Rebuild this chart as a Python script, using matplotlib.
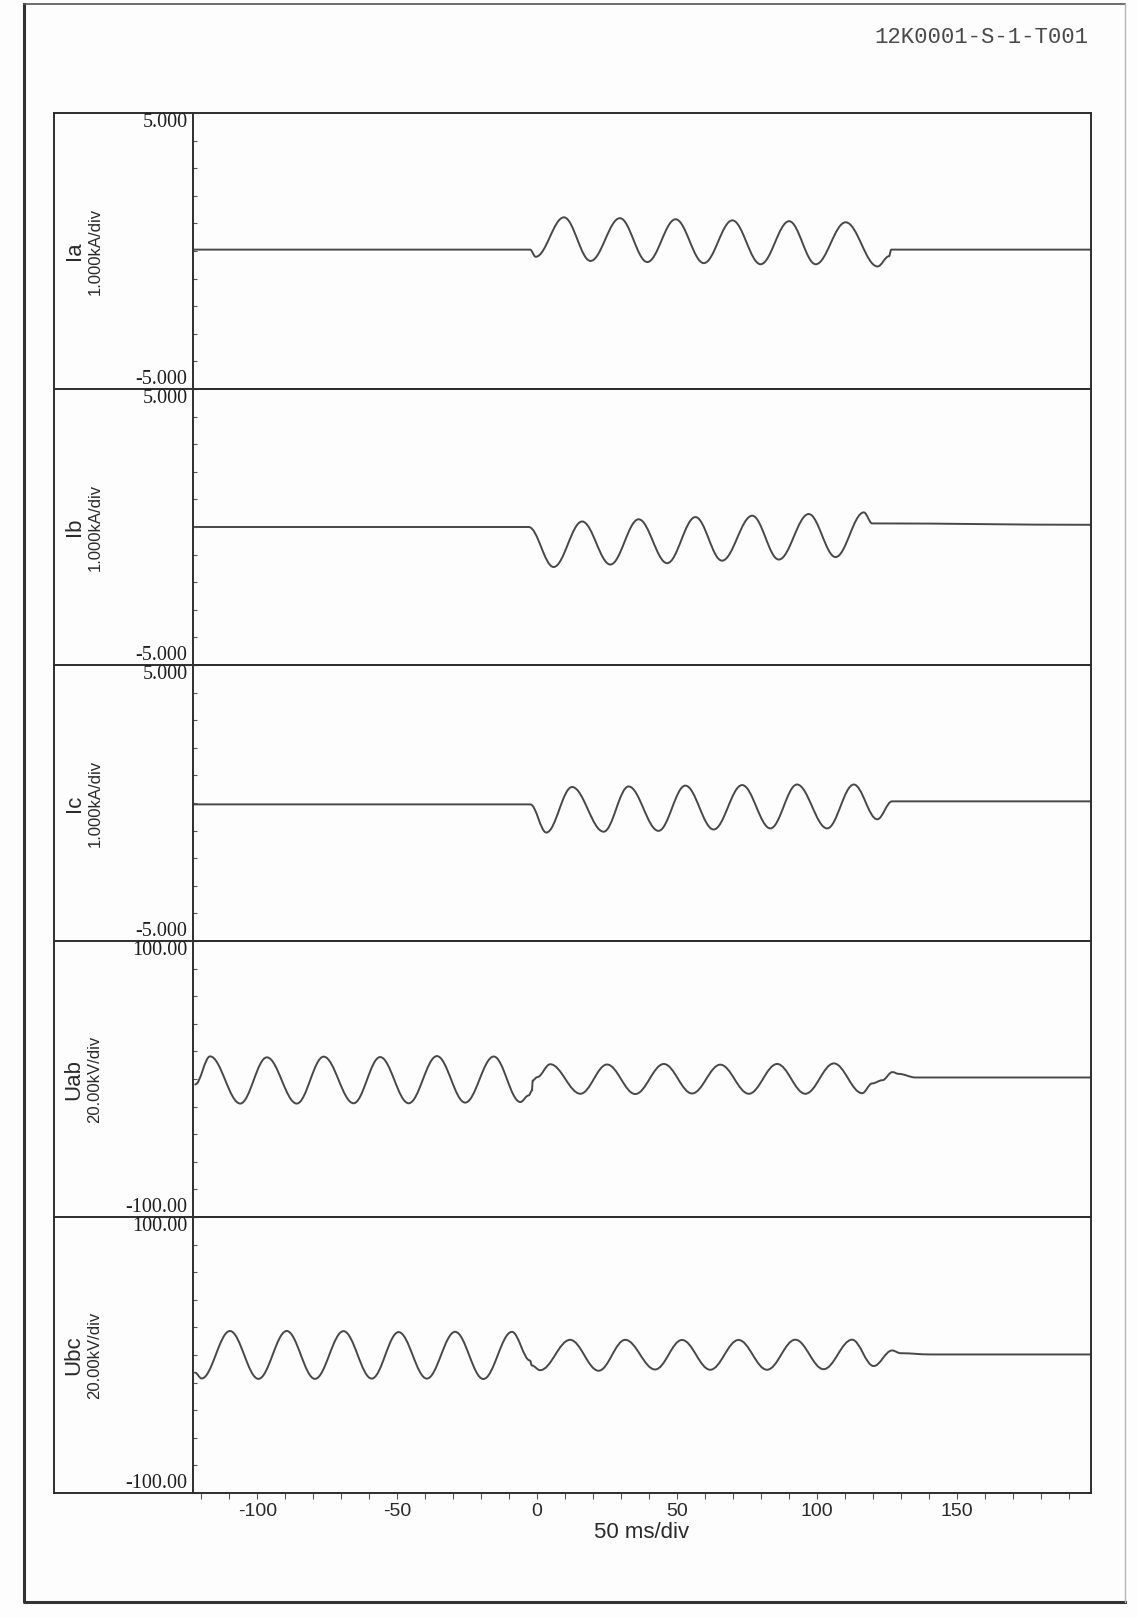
import numpy as np
import matplotlib.pyplot as plt
from matplotlib.path import Path
from matplotlib.patches import PathPatch
from matplotlib.ticker import MultipleLocator

W, H = 1137, 1618

# time window of the record (ms) and labelled ticks
t_min, t_max = -123.0, 198.0
x_ticks = [-100, -50, 0, 50, 100, 150]

names = ["Ia", "Ib", "Ic", "Uab", "Ubc"]
units = ["1.000kA/div", "1.000kA/div", "1.000kA/div", "20.00kV/div", "20.00kV/div"]
full_scale = [5.0, 5.0, 5.0, 100.0, 100.0]
top_labels = ["5.000", "5.000", "5.000", "100.00", "100.00"]
bottom_labels = ["-5.000", "-5.000", "-5.000", "-100.00", "-100.00"]

# turning points of each channel: time (ms), value (kA or kV)
ia_t = [-123, -2.5, -0.5, 9.6, 19.1, 29.6, 39.4, 49.5, 59.6, 69.8, 79.9, 90.1,
        99.6, 110.3, 121.7, 125.8, 126.6, 198]
ia_v = [0.05, 0.05, -0.21, 1.22, -0.36, 1.19, -0.40, 1.15, -0.44, 1.11, -0.48, 1.08,
        -0.48, 1.04, -0.56, -0.19, 0.05, 0.05]

ib_t = [-123, -3.0, 5.9, 16.1, 26.2, 36.3, 46.5, 56.6, 66.1, 76.9, 86.4, 97.1,
        106.7, 116.8, 119.8, 198]
ib_v = [0.0, 0.0, -1.45, 0.20, -1.36, 0.28, -1.31, 0.36, -1.22, 0.41, -1.18, 0.47,
        -1.09, 0.53, 0.13, 0.08]

ic_t = [-123, -2.4, 3.3, 12.5, 23.8, 32.7, 43.4, 53.0, 63.1, 73.3, 83.4, 92.9,
        103.7, 113.2, 121.6, 126.9, 198]
ic_v = [-0.05, -0.05, -1.07, 0.58, -1.04, 0.60, -1.01, 0.63, -0.96, 0.65, -0.92, 0.67,
        -0.92, 0.67, -0.59, 0.06, 0.06]

uab_t = [-122.2, -116.9, -106.1, -96.6, -85.9, -76.3, -65.6, -56.1, -45.9, -35.8,
         -25.7, -15.5, -6.0, -3.0, -1.8, -1.6, 0.0, 4.7, 15.5, 25.0, 35.1, 45.3,
         55.4, 65.5, 75.7, 85.8, 95.9, 106.1, 116.2, 119.8, 123.4, 127.0, 129.3,
         135.3, 198]
uab_v = [-3.9, 16.4, -17.8, 15.7, -17.8, 16.2, -17.6, 15.9, -17.6, 16.6,
         -17.1, 16.3, -16.7, -11.9, -8.3, -1.1, 1.3, 10.7, -10.7, 10.5, -10.9, 10.9,
         -10.5, 10.4, -10.7, 10.9, -10.7, 11.3, -10.3, -3.2, -0.9, 5.0, 3.7,
         1.1, 1.1]

ubc_t = [-122.3, -119.9, -109.8, -99.6, -89.5, -79.4, -69.2, -59.1, -49.5, -39.4,
         -29.3, -19.2, -9.0, -2.5, -1.9, 1.1, 11.8, 22.0, 31.5, 42.2, 51.8, 61.9,
         72.0, 82.2, 92.3, 102.4, 112.6, 120.3, 126.9, 129.9, 140.6, 198]
ubc_v = [-12.8, -17.0, 17.4, -17.3, 17.4, -17.3, 17.3, -17.1, 16.6, -17.1,
         16.8, -17.4, 16.8, -4.0, -7.6, -11.0, 11.0, -11.4, 11.0, -10.5, 10.9, -10.7,
         10.9, -10.7, 11.1, -10.3, 11.1, -8.0, 3.3, 1.3, 0.4, 0.4]

traces = [(ia_t, ia_v), (ib_t, ib_v), (ic_t, ic_v), (uab_t, uab_v), (ubc_t, ubc_v)]


def trace_path(ts, vs, k=0.3634):
    # cubic segments with flat tangents at every turning point (half sine shape)
    verts = [(ts[0], vs[0])]
    codes = [Path.MOVETO]
    for t0, v0, t1, v1 in zip(ts[:-1], vs[:-1], ts[1:], vs[1:]):
        dt = t1 - t0
        verts += [(t0 + k * dt, v0), (t1 - k * dt, v1), (t1, v1)]
        codes += [Path.CURVE4] * 3
    return Path(verts, codes)


ink = "#2e2e2e"
trace_col = "#484848"
sans = ["Liberation Sans", "DejaVu Sans"]
narrow = ["Liberation Sans Narrow", "Liberation Sans", "DejaVu Sans"]
serif = ["Liberation Serif", "DejaVu Serif"]

# frame geometry in pixels
box_left, plot_left, plot_right = 54, 193, 1091
plot_top, panel_h = 113, 276
plot_bottom = plot_top + 5 * panel_h

fig = plt.figure(figsize=(W / 100, H / 100), dpi=100)
fig.patch.set_facecolor("#fdfdfd")

page = fig.add_axes([0, 0, 1, 1])
page.set_xlim(0, W)
page.set_ylim(H, 0)
page.axis("off")

# sheet border
page.plot([24, 24, 1125], [4, 1602, 1602], color="#333333", lw=2.2)
page.plot([24, 1125], [4, 4], color="#555555", lw=1.2)
page.plot([1125, 1125], [4, 1602], color="#b5b5b5", lw=1.0)

page.text(1088, 37, "12K0001-S-1-T001", ha="right", va="center",
          family=["Liberation Mono", "DejaVu Sans Mono"], fontsize=16, color="#4a4a4a")

# label column
page.plot([box_left, box_left], [plot_top, plot_bottom], color=ink, lw=1.4)
for i in range(6):
    y = plot_top + i * panel_h
    page.plot([box_left, plot_left], [y, y], color=ink, lw=1.4)

for i, (name, unit) in enumerate(zip(names, units)):
    yc = plot_top + (i + 0.5) * panel_h
    page.text(74, yc, name, rotation=90, ha="center", va="center",
              family=sans, fontsize=16, color="#2a2a2a")
    page.text(95, yc, unit, rotation=90, ha="center", va="center",
              family=sans, fontsize=12, color="#2a2a2a")

for i, (ts, vs) in enumerate(traces):
    fs = full_scale[i]
    ax = fig.add_axes([plot_left / W, 1 - (plot_top + (i + 1) * panel_h) / H,
                       (plot_right - plot_left) / W, panel_h / H])
    ax.set_facecolor("none")
    ax.set_xlim(t_min, t_max)
    ax.set_ylim(-fs, fs)
    for sp in ax.spines.values():
        sp.set_color(ink)
        sp.set_linewidth(1.4)

    ax.add_patch(PathPatch(trace_path(ts, vs), fill=False, edgecolor=trace_col,
                           lw=1.4, capstyle="round", joinstyle="round"))

    ax.set_yticks([-fs, fs])
    ax.set_yticklabels([bottom_labels[i], top_labels[i]], family=serif,
                       fontsize=14.5, color="#1e1e1e")
    lbls = ax.get_yticklabels()
    lbls[0].set_va("bottom")
    lbls[1].set_va("top")
    ax.yaxis.set_minor_locator(MultipleLocator(fs / 5))
    ax.tick_params(axis="y", which="both", direction="in", length=3,
                   width=0.8, color="#555555", pad=4)

    if i < 4:
        ax.set_xticks([])
    else:
        ax.set_xticks(x_ticks)
        ax.set_xticklabels([str(v) for v in x_ticks], family=narrow,
                           fontsize=14, color="#2a2a2a")
        ax.xaxis.set_minor_locator(MultipleLocator(10))
        ax.tick_params(axis="x", which="both", direction="out", length=4,
                       width=0.8, color="#555555", pad=3)
        ax.set_xlabel("50 ms/div", family=narrow, fontsize=16,
                      color="#2a2a2a", labelpad=2)

fig.savefig("out.png", dpi=100, facecolor=fig.get_facecolor())
